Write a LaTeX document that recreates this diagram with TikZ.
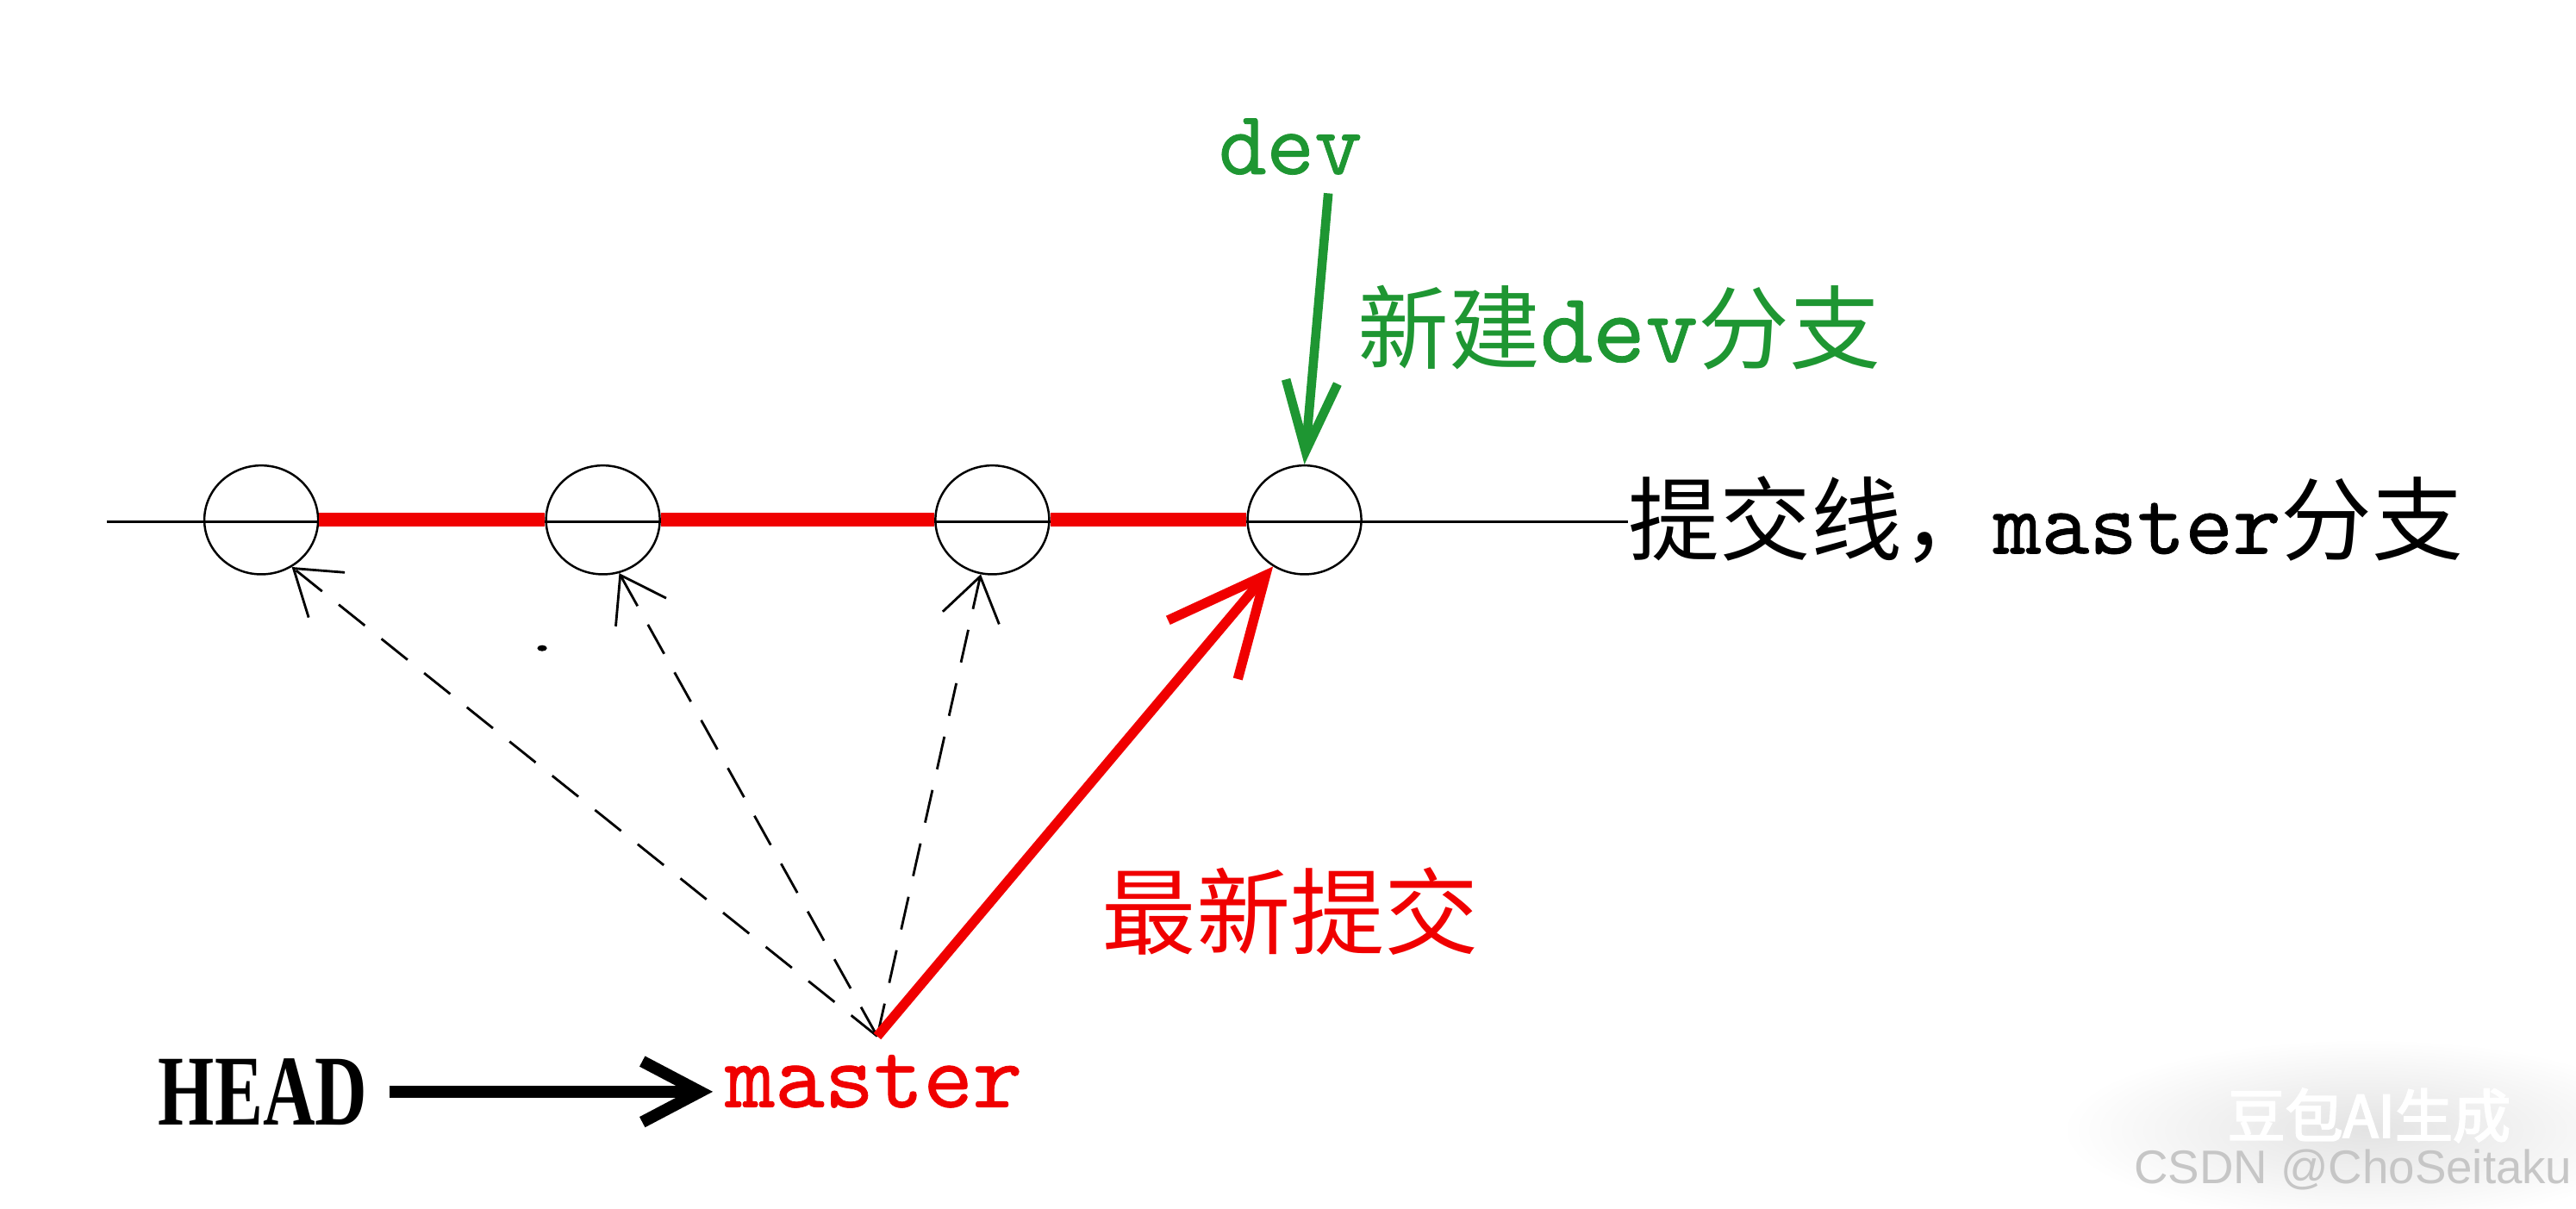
\documentclass[tikz,border=0pt]{standalone}
\usepackage{fontspec}
\setmainfont{Liberation Serif}
\newfontfamily\cjk{Noto Sans CJK SC}
\newfontfamily\mono[FakeBold=0.7]{lmmono10-regular.otf}
\newfontfamily\headfont[FakeStretch=0.72]{Liberation Serif}
\newfontfamily\wmcjk[FakeBold=3]{Noto Sans CJK SC}
\newfontfamily\wmsans{Liberation Sans}
\usetikzlibrary{arrows.meta,shapes.geometric}
\definecolor{gitred}{RGB}{240,0,0}
\definecolor{devgreen}{RGB}{30,150,50}
\newcommand{\fsz}[1]{\fontsize{#1}{#1}\selectfont}
\begin{document}
\begin{tikzpicture}[x=0.5403pt,y=-0.5403pt,
  commit/.style={draw,ellipse,line width=0.7pt,minimum width=37.4pt,minimum height=35.8pt,inner sep=0pt},
  txt/.style={inner sep=0pt},
  pastarrow/.style={line width=0.8pt,dash pattern=on 11pt off 7pt,-{Straight Barb[length=14pt,width=19pt]}},
  newarrow/.style={gitred,line width=3.2pt,-{Straight Barb[length=32pt,width=30pt]}},
  devarrow/.style={devgreen,line width=3pt,-{Straight Barb[length=23pt,width=17pt]}},
  headarrow/.style={line width=3.9pt,-{Straight Barb[length=19pt,width=20pt]}},
  redseg/.style={gitred,line width=4.5pt},
  mainline/.style={line width=0.95pt}
]
\useasboundingbox (0,0) rectangle (1568,736);
\fill[white] (0,0) rectangle (1568,736);
% watermark glow
\shade[inner color=gray!22,outer color=white] (1440,688) ellipse [x radius=100pt,y radius=30pt];

% commits
\node[commit] (c1) at (159,316.5) {};
\node[commit] (c2) at (367,316.5) {};
\node[commit] (c3) at (604,316.5) {};
\node[commit] (c4) at (794,316.5) {};

% labels
\node[txt,anchor=base west] (label) at (991,337) {{\fsz{30pt}\cjk 提交线，}{\fsz{30pt}\mono master}{\fsz{30pt}\cjk 分支}};
\node[txt,anchor=base,text=devgreen] (dev) at (785.5,106) {\fsz{30pt}\mono dev};
\node[txt,anchor=base west,text=devgreen] (newdev) at (826,220.4) {{\fsz{30pt}\cjk 新建}{\fsz{33pt}\mono dev}{\fsz{30pt}\cjk 分支}};
\node[txt,anchor=base,text=gitred] (latest) at (785.5,577) {\fsz{31pt}\cjk 最新提交};
\node[txt,anchor=base,text=gitred] (master) at (532,674) {\fsz{31pt}\mono master};
\node[txt,anchor=base] (head) at (160,684.7) {\fsz{33pt}\headfont\bfseries HEAD};

% commit line
\coordinate (linestart) at (65,317.5);
\draw[mainline] (linestart) -- (linestart -| label.west);
\draw[redseg] (c1.east) -- (c2.west);
\draw[redseg] (c2.east) -- (c3.west);
\draw[redseg] (c3.east) -- (c4.west);

% pointers
\coordinate (src) at ([shift={(2,-11)}]master.north);
\draw[pastarrow] (src) -- (c1.-57);
\draw[pastarrow] (src) -- (c2.-73);
\draw[pastarrow] (src) -- (c3.-102);
\draw[newarrow] (src) -- (c4.236);
\draw[devarrow] ([shift={(23,11)}]dev.south) -- (c4.north);
\draw[headarrow,shorten <=7pt,shorten >=4pt] (head.east) -- (head.east -| master.west);

% stray dot
\fill (330,394.6) ellipse [x radius=1.6pt,y radius=1pt];

% watermark
\node[txt,text=white] (wm1) at (1442,679) {\fsz{19pt}\wmcjk 豆包AI生成};
\node[txt,anchor=east,text=gray!45] (wm2) at (1566,712) {\fsz{15.5pt}\wmsans CSDN @ChoSeitaku};
\end{tikzpicture}
\end{document}
